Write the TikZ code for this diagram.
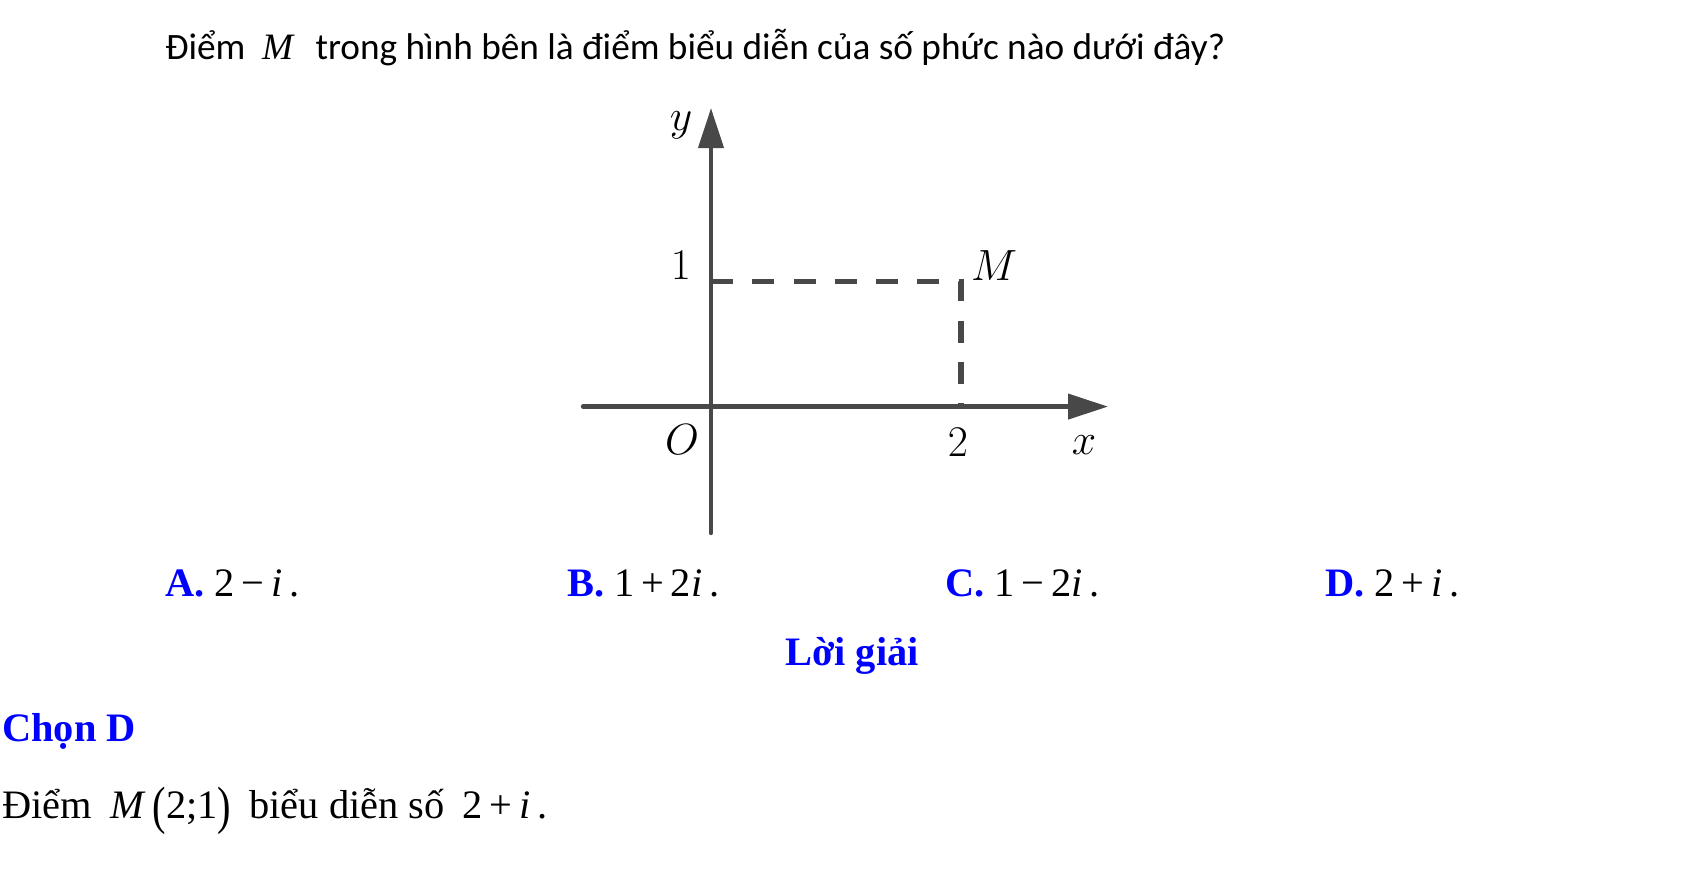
\documentclass[tikz,border=0pt]{standalone}
\usepackage{fontspec}
\setmainfont{Liberation Serif}
\newfontfamily\qfont{Carlito}
\usepackage{graphicx}
\usepackage{xcolor}
\definecolor{axisgrey}{RGB}{72,72,72}
\definecolor{ansblue}{RGB}{0,0,255}
\usetikzlibrary{arrows.meta}
\tikzset{
  axis/.style={line width=2.4pt,draw=axisgrey,line cap=round},
  axarr/.style={axis,-{Triangle[length=0.8cm,width=0.5cm]}},
  guide/.style={line width=3.2pt,draw=axisgrey,dash pattern=on 12.5pt off 11pt},
  lab/.style={font=\fontsize{27}{30}\selectfont,inner sep=0pt},
  txt/.style={font=\fontsize{23}{27}\selectfont,anchor=base west,inner sep=0pt},
  ques/.style={font=\qfont\fontsize{21.2}{25}\selectfont,anchor=base west,inner sep=0pt},
  head/.style={font=\fontsize{23}{27}\selectfont\bfseries,text=ansblue,inner sep=0pt},
}
\newcommand{\choice}[1]{\textcolor{ansblue}{\textbf{#1.}}}
\newcommand{\bigpar}[1]{\raisebox{-0.12em}{\scalebox{1}[1.3]{#1}}}

\begin{document}
\begin{tikzpicture}
  \useasboundingbox (-14.22,-9.448) rectangle (19.78,8.132);
  % question
  \node[ques] (q) at (-10.92,6.94) {Điểm\hspace{0.45em}{\rmfamily\itshape M}\hspace{0.6em}trong hình bên là điểm biểu diễn của số phức nào dưới đây?};
  % axes and the point M
  \coordinate (O) at (0,0);
  \coordinate (xl) at (-2.56,0);
  \coordinate (xr) at (7.94,0);
  \coordinate (yb) at (0,-2.53);
  \coordinate (yt) at (0,5.97);
  \coordinate (M) at (5,2.5);
  \coordinate (y1) at (0,2.5);
  \coordinate (x2) at (5,0);
  \draw[guide] (y1) -- (M) -- (x2);
  \draw[axarr] (xl) -- (xr);
  \draw[axarr] (yb) -- (yt);
  \node[lab] (ylab) at (-0.6,5.63) {$y$};
  \node[lab] (one) at (-0.6,2.82) {$1$};
  \node[lab] (Mlab) at (5.66,2.82) {$M$};
  \node[lab] (Olab) at (-0.58,-0.65) {$O$};
  \node[lab] (two) at (4.94,-0.71) {$2$};
  \node[lab] (xlab) at (7.46,-0.76) {$x$};
  % answers
  \node[txt] (ansA) at (-10.92,-3.79) {\choice{A} 2\,−\,\textit{i}\,.};
  \node[txt] (ansB) at (-2.88,-3.79) {\choice{B} 1\,+\,2\textit{i}\,.};
  \node[txt] (ansC) at (4.68,-3.79) {\choice{C} 1\,−\,2\textit{i}\,.};
  \node[txt] (ansD) at (12.28,-3.79) {\choice{D} 2\,+\,\textit{i}\,.};
  % solution
  \node[head,anchor=base] (sol) at (2.82,-5.18) {Lời giải};
  \node[head,anchor=base west] (pick) at (-14.18,-6.70) {Chọn D};
  \node[txt] (expl) at (-14.18,-8.24) {Điểm\hspace{0.45em}\textit{M}\,\bigpar{(}2;1\bigpar{)}\hspace{0.45em}biểu diễn số\hspace{0.45em}2\,+\,\textit{i}\,.};
\end{tikzpicture}
\end{document}
